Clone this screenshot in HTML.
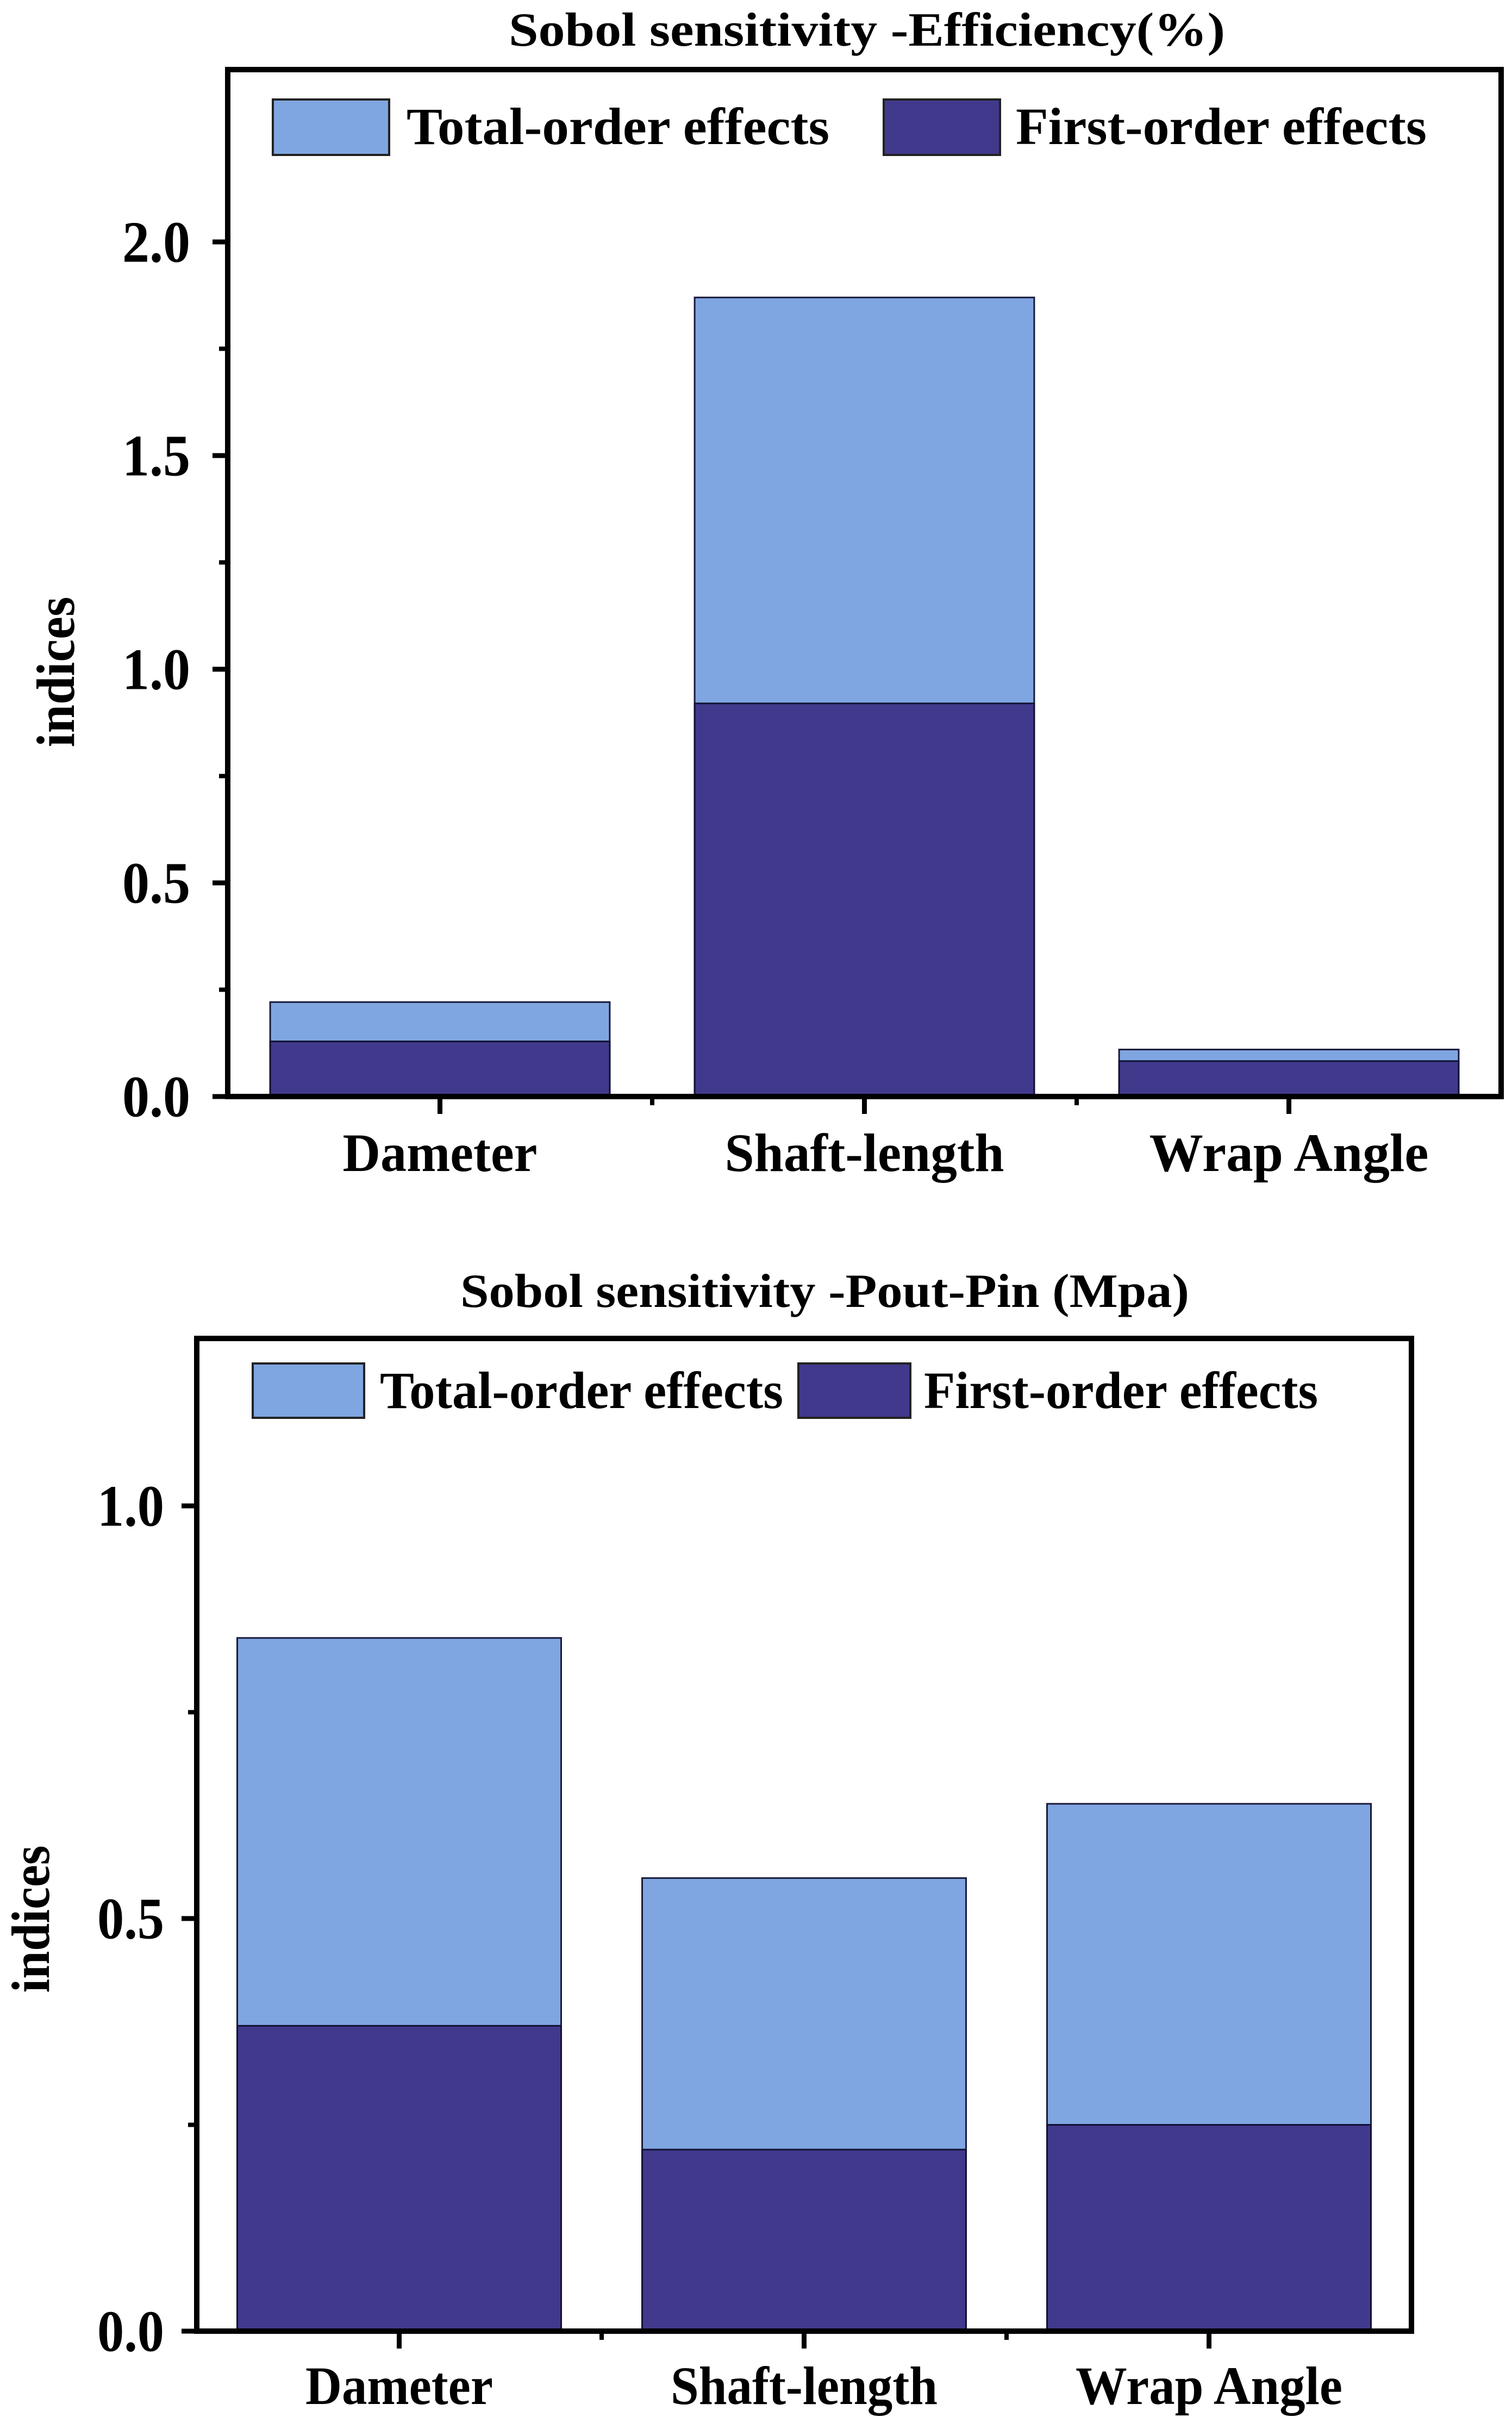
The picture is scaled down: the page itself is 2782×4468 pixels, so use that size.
<!DOCTYPE html>
<html><head><meta charset="utf-8"><style>
html,body{margin:0;padding:0;background:#fff;}
svg{display:block;}
text{font-family:"Liberation Serif",serif;font-weight:bold;fill:#000;}
</style></head><body>
<svg id="fig" width="2782" height="4468" viewBox="0 0 2782 4468" xmlns="http://www.w3.org/2000/svg"></svg>
<script>
const categories = ["Dameter", "Shaft-length", "Wrap Angle"];
const effTotal = [0.221, 1.87, 0.11];
const effFirst = [0.129, 0.92, 0.083];
const poutTotal = [0.840, 0.549, 0.639];
const poutFirst = [0.370, 0.220, 0.250];
const effTicks = ["0.0", "0.5", "1.0", "1.5", "2.0"];
const poutTicks = ["0.0", "0.5", "1.0"];
const legendLabels = ["Total-order effects", "First-order effects"];

const NS = "http://www.w3.org/2000/svg";
const svg = document.getElementById("fig");
function mk(tag, attrs, parent) {
  const e = document.createElementNS(NS, tag);
  for (const k in attrs) e.setAttribute(k, attrs[k]);
  (parent || svg).appendChild(e);
  return e;
}
function txt(str, attrs, parent) { const t = mk("text", attrs, parent); t.textContent = str; return t; }

function drawChart(cfg, total, first, ticks) {
  const g = mk("g", {});
  
  
  const L = cfg.left, R = cfg.right, T = cfg.top, B = cfg.bottom;
  const y = v => B - (v - 0) / cfg.ymax * (B - cfg.yTopAt);
  const band = (R - L) / categories.length;
  const xc = i => L + band * (i + 0.5);
  const bw = band * 0.8;
  categories.forEach((c, i) => {
    const tb = mk("rect", {x: xc(i) - bw/2, y: y(total[i]), width: bw, height: y(0) - y(total[i]), fill: "#7fa6e1", stroke: "#1a1a3a", "stroke-width": 3}, g);
    
    
    const fb = mk("rect", {x: xc(i) - bw/2, y: y(first[i]), width: bw, height: y(0) - y(first[i]), fill: "#41398c", stroke: "#111133", "stroke-width": 3}, g);
    
    
  });
  const fr = mk("rect", {x: L, y: T, width: R - L, height: B - T, fill: "none", stroke: "#000", "stroke-width": 10}, g);
  
  
  ticks.forEach(s => {
    const v = parseFloat(s);
    mk("line", {x1: L - 28, x2: L, y1: y(v), y2: y(v), stroke: "#000", "stroke-width": 9}, g);
    const t = txt(s, {x: cfg.tickRight, y: y(v) + cfg.tickFont * 0.34, "text-anchor": "end", "font-size": cfg.tickFont, textLength: cfg.tickW, lengthAdjust: "spacingAndGlyphs"}, g);
    
    
  });
  for (let v = 0.25; v < cfg.ymax; v += 0.5) {
    mk("line", {x1: L - 16, x2: L, y1: y(v), y2: y(v), stroke: "#000", "stroke-width": 8}, g);
  }
  categories.forEach((c, i) => {
    mk("line", {x1: xc(i), x2: xc(i), y1: B, y2: B + 32, stroke: "#000", "stroke-width": 9}, g);
    if (i > 0) mk("line", {x1: L + band * i, x2: L + band * i, y1: B, y2: B + 16, stroke: "#000", "stroke-width": 8}, g);
    const t = txt(c, {x: xc(i), y: cfg.xLabelY, "text-anchor": "middle", "font-size": cfg.xFont, textLength: cfg.xW[i], lengthAdjust: "spacingAndGlyphs"}, g);
    
    
  });
  const yt = txt("indices", {x: 0, y: 0, "text-anchor": "middle", "font-size": cfg.yFont, textLength: cfg.yW, lengthAdjust: "spacingAndGlyphs", transform: "translate(" + cfg.yTitleX + "," + cfg.yTitleY + ") rotate(-90)"}, g);
  
  
  const tt = txt(cfg.title, {x: (cfg.titleX0 + cfg.titleX1) / 2, y: cfg.titleY, "text-anchor": "middle", "font-size": cfg.titleFont, textLength: cfg.titleX1 - cfg.titleX0, lengthAdjust: "spacingAndGlyphs"}, g);
  
  
  const lg = mk("g", {}, g);
  
  
  const colors = ["#7fa6e1", "#41398c"];
  cfg.legend.forEach((l, k) => {
    const sw = mk("rect", {x: l.bx0, y: cfg.legTop, width: l.bx1 - l.bx0, height: cfg.legBot - cfg.legTop, fill: colors[k], stroke: "#222", "stroke-width": 4}, lg);
    
    
    const lt = txt(legendLabels[k], {x: l.tx0, y: cfg.legBase, "font-size": cfg.legFont, textLength: l.tx1 - l.tx0, lengthAdjust: "spacingAndGlyphs"}, lg);
    
    
  });
}

drawChart({
  name: "efficiency-chart", left: 419, right: 2762, top: 128, bottom: 2017, yTopAt: 445, ymax: 2.0,
  tickRight: 350, tickFont: 108, tickW: 125, xLabelY: 2154, xFont: 100, xW: [358, 514, 514],
  yFont: 100, yW: 277, yTitleX: 136, yTitleY: 1236,
  title: "Sobol sensitivity -Efficiency(%)", titleX0: 936, titleX1: 2254, titleY: 84, titleFont: 88,
  legTop: 183, legBot: 285, legBase: 265, legFont: 96,
  legend: [{bx0: 502, bx1: 716, tx0: 748, tx1: 1526}, {bx0: 1626, bx1: 1840, tx0: 1869, tx1: 2625}]
}, effTotal, effFirst, effTicks);

drawChart({
  name: "pout-pin-chart", left: 362, right: 2597, top: 2462, bottom: 4288, yTopAt: 2770, ymax: 1.0,
  tickRight: 302, tickFont: 108, tickW: 123, xLabelY: 4422, xFont: 100, xW: [345, 491, 491],
  yFont: 100, yW: 271, yTitleX: 90, yTitleY: 3530,
  title: "Sobol sensitivity -Pout-Pin (Mpa)", titleX0: 847, titleX1: 2188, titleY: 2404, titleFont: 88,
  legTop: 2508, legBot: 2608, legBase: 2590, legFont: 96,
  legend: [{bx0: 465, bx1: 670, tx0: 699, tx1: 1441}, {bx0: 1469, bx1: 1675, tx0: 1700, tx1: 2425}]
}, poutTotal, poutFirst, poutTicks);
</script>
</body></html>
